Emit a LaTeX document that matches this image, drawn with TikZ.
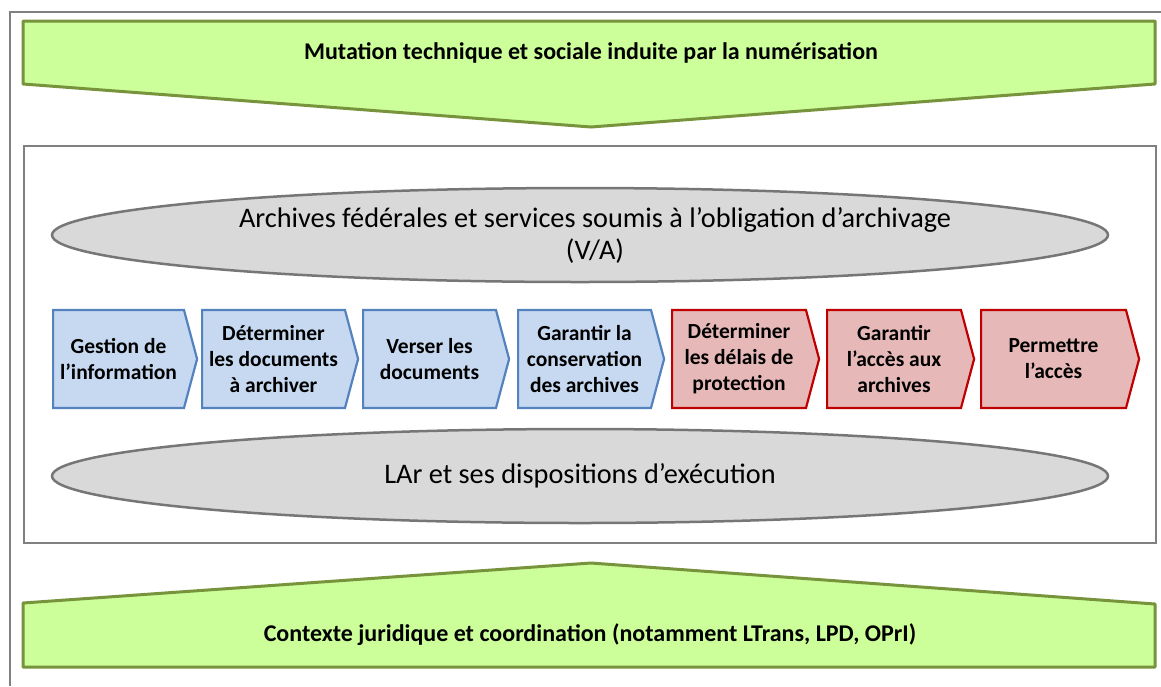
\documentclass[tikz,border=0pt]{standalone}
\usepackage{fontspec}
\setmainfont{Carlito}
\usepackage{xcolor}
\usepackage{tikz}
\usetikzlibrary{shapes.geometric,shapes.symbols}
\definecolor{framegray}{RGB}{128,128,128}
\definecolor{bannerfill}{RGB}{204,255,153}
\definecolor{bannerline}{RGB}{119,147,60}
\definecolor{layerfill}{RGB}{217,217,217}
\definecolor{layerline}{RGB}{118,118,118}
\definecolor{archfill}{RGB}{198,217,241}
\definecolor{archline}{RGB}{84,130,190}
\definecolor{accfill}{RGB}{230,185,184}
\definecolor{accline}{RGB}{192,0,0}

\begin{document}
\begin{tikzpicture}[
    x=1pt, y=-1pt,
    frame/.style={draw=framegray, line width=2.5pt},
    banner/.style={draw=bannerline, fill=bannerfill, line width=3pt, line join=round},
    bannertext/.style={font=\bfseries\fontsize{24}{28}\selectfont},
    layer/.style={ellipse, draw=layerline, fill=layerfill, line width=2.5pt, minimum width=1056pt, minimum height=94pt, align=center, inner sep=0pt, font=\fontsize{28.3}{32}\selectfont},
    task/.style={signal, signal to=east, signal from=nowhere, signal pointer angle=150, minimum height=98pt, anchor=west, line width=2.2pt, align=center, inner sep=1pt, font=\bfseries\fontsize{21.5}{26}\selectfont},
    archive/.style={task, draw=archline, fill=archfill},
    access/.style={task, draw=accline, fill=accfill}
]
\useasboundingbox (0,0) rectangle (1161,686);

% outer frame and inner box
\draw[frame] (10,686) -- (10,12) -- (1161,12);
\draw[frame] (24,146) rectangle (1156,543);

% banners
\draw[banner] (23,21) -- (1155,21) -- (1155,84) -- (591,127) -- (23,84) -- cycle;
\node[bannertext] (mutation) at (591,53) {Mutation technique et sociale induite par la numérisation};
\draw[banner] (23,667) -- (23,603) -- (591,563) -- (1155,604) -- (1155,667) -- cycle;
\node[bannertext] (contexte) at (590,635) {Contexte juridique et coordination (notamment LTrans, LPD, OPrI)};

% the two layers (upper text sits a bit right of centre)
\node[layer] (services) at (580,235) {\hspace*{30pt}Archives fédérales et services soumis à l’obligation d’archivage\\\hspace*{30pt}(V/A)};
\node[layer] (lar) at (580,476) {LAr et ses dispositions d’exécution};

% process steps
\node[archive, minimum width=144pt] (gestion) at (52,359) {Gestion de\\l’information};
\node[archive, minimum width=156pt] (determiner) at (201,359) {Déterminer\\les documents\\à archiver};
\node[archive, minimum width=146pt] (verser) at (362,359) {Verser les\\documents};
\node[archive, minimum width=146pt] (conserver) at (517,359) {Garantir la\\conservation\\des archives};
\node[access, minimum width=147pt] (delais) at (671,359) {Déterminer\\les délais de\\protection};
\node[access, minimum width=147pt] (garantir) at (826,359) {Garantir\\l’accès aux\\archives};
\node[access, minimum width=158pt] (permettre) at (980,359) {Permettre\\l’accès};
\end{tikzpicture}
\end{document}
